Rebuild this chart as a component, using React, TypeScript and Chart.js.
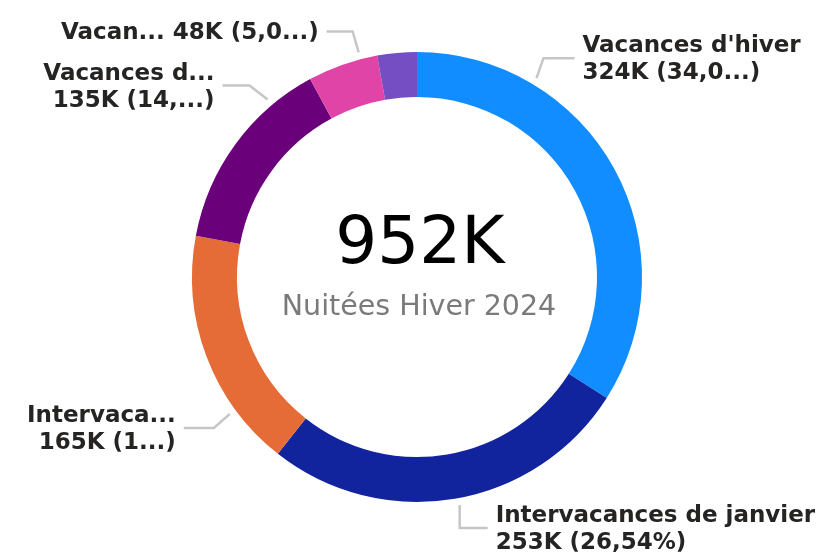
import React, { useEffect, useRef } from "react";
import { Chart, registerables } from "chart.js";

Chart.register(...registerables);

// ---- Data ----
const categories = [
  "Vacances d'hiver",
  "Intervacances de janvier",
  "Intervaca...",
  "Vacances d...",
  "Vacan...",
  "Autre",
];
const values = [324, 253, 165, 135, 48, 27];
const valueLabels = ["324K", "253K", "165K", "135K", "48K", ""];
const pctLabels = ["(34,0...)", "(26,54%)", "(1...)", "(14,...)", "(5,0...)", ""];
const totalLabel = "952K";
const subtitle = "Nuitées Hiver 2024";

// ---- Style / layout ----
const colors = ["#118DFF", "#12239E", "#E66C37", "#6B007B", "#E044A7", "#744EC2"];
// label layout: fraction along slice, elbow offset, horizontal length (signed), single line?, show?
const anchorFrac = [0.253, 0.49, 0.25, 0.77, 0.76, 0.5];
const elbowDx = [7, 0, -16, -18, -6, 0];
const elbowDy = [-20, 23, 14, -14, -21, 0];
const horizLen = [31, 28, -30, -27, -26, 0];
const singleLine = [false, false, false, false, true, false];
const showLabel = [true, true, true, true, true, false];

const labelPlugin = {
  id: "pbiLabels",
  afterDraw(chart: any) {
    const ctx = chart.ctx as CanvasRenderingContext2D;
    const meta = chart.getDatasetMeta(0);
    const arcs = meta.data;
    if (!arcs.length) return;
    const cx = arcs[0].x;
    const cy = arcs[0].y;
    ctx.save();
    // center text
    ctx.textAlign = "center";
    ctx.textBaseline = "alphabetic";
    ctx.fillStyle = "#000000";
    ctx.font = "66px 'DejaVu Sans'";
    ctx.fillText(totalLabel, cx + 3, cy - 14);
    ctx.fillStyle = "#7a7a7a";
    ctx.font = "28.5px 'DejaVu Sans'";
    ctx.fillText(subtitle, cx + 2, cy + 38);

    arcs.forEach((arc: any, i: number) => {
      if (!showLabel[i]) return;
      const a = arc.startAngle + (arc.endAngle - arc.startAngle) * anchorFrac[i];
      const r = arc.outerRadius + 7;
      const x0 = cx + r * Math.cos(a);
      const y0 = cy + r * Math.sin(a);
      const x1 = x0 + elbowDx[i];
      const y1 = y0 + elbowDy[i];
      const x2 = x1 + horizLen[i];
      ctx.strokeStyle = "#c6c6c6";
      ctx.lineWidth = 2.5;
      ctx.beginPath();
      ctx.moveTo(x0, y0);
      ctx.lineTo(x1, y1);
      ctx.lineTo(x2, y1);
      ctx.stroke();

      const right = horizLen[i] > 0;
      ctx.textAlign = right ? "left" : "right";
      const tx = right ? x2 + 8 : x2 - 8;
      ctx.fillStyle = "#252423";
      ctx.font = "bold 23px 'DejaVu Sans'";
      if (singleLine[i]) {
        ctx.fillText(`${categories[i]} ${valueLabels[i]} ${pctLabels[i]}`, tx, y1 + 8);
      } else {
        ctx.fillText(categories[i], tx, y1 - 6);
        ctx.fillText(`${valueLabels[i]} ${pctLabels[i]}`, tx, y1 + 21);
      }
    });
    ctx.restore();
  },
};

export default function App() {
  const ref = useRef<HTMLCanvasElement>(null);
  useEffect(() => {
    document.body.style.margin = "0";
    const chart = new Chart(ref.current!, {
      type: "doughnut",
      data: {
        labels: categories,
        datasets: [
          {
            data: values,
            backgroundColor: colors,
            borderWidth: 0,
          },
        ],
      },
      options: {
        responsive: false,
        animation: false,
        radius: 225,
        cutout: 180,
        layout: { padding: { top: 52, bottom: 52, left: 11, right: 0 } },
        plugins: {
          legend: { display: false },
          tooltip: { enabled: false },
        },
      } as any,
      plugins: [labelPlugin],
    });
    return () => chart.destroy();
  }, []);
  return (
    <div style={{ width: 823, height: 554 }}>
      <canvas ref={ref} width={823} height={554} />
    </div>
  );
}
